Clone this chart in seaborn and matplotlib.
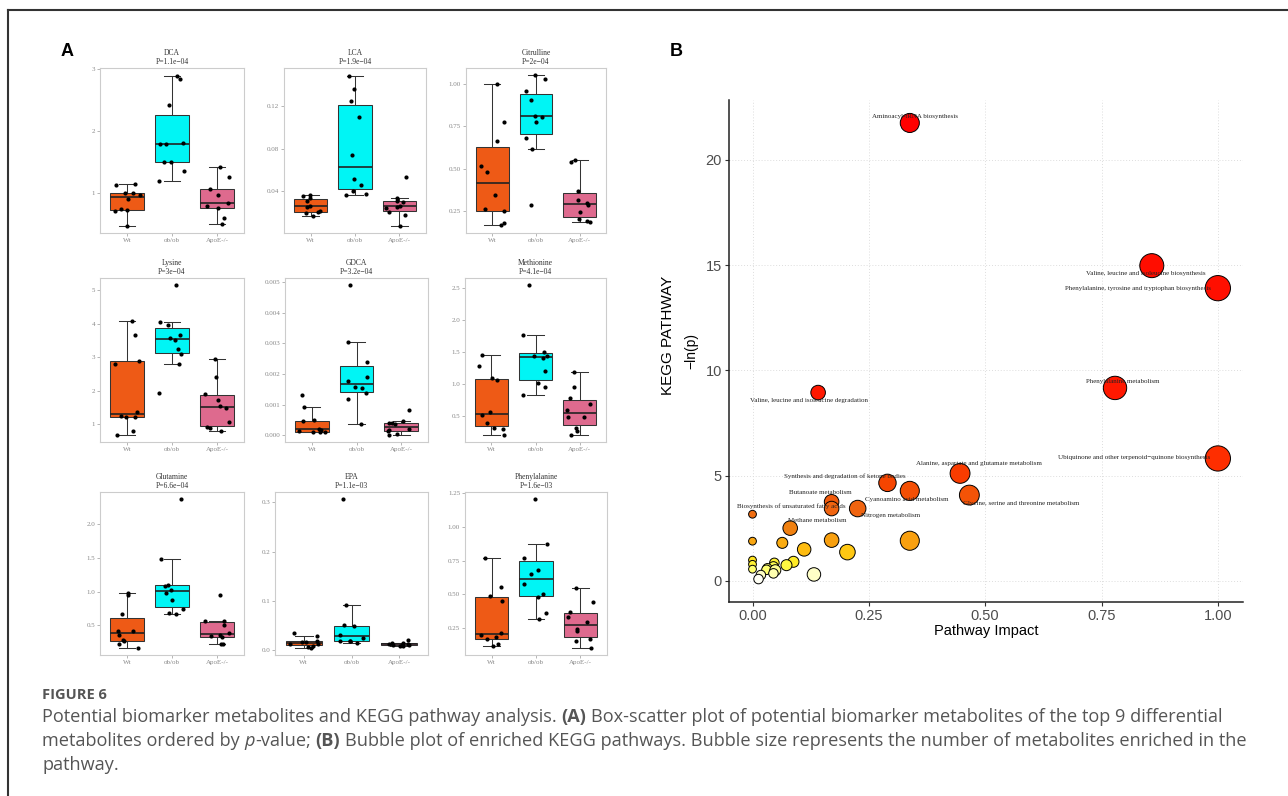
import numpy as np
import pandas as pd
import seaborn as sns
import matplotlib.pyplot as plt
from matplotlib.colors import LinearSegmentedColormap
from matplotlib.lines import Line2D
from matplotlib.transforms import IdentityTransform

# ---- panel A data ----
groups = ["Wt", "ob/ob", "ApoE-/-"]
group_colors = ["#EE5A16", "#00F5F5", "#DE6A8E"]

titles = ["DCA", "LCA", "Citrulline", "Lysine", "GDCA", "Methionine",
          "Glutamine", "EPA", "Phenylalanine"]
pvals = ["1.1e\u221204", "1.9e\u221204", "2e\u221204", "3e\u221204", "3.2e\u221204",
         "4.1e\u221204", "6.6e\u221204", "1.1e\u221203", "1.6e\u221203"]

dca = [[1.12, 1.14, 1.00, 0.99, 0.96, 0.90, 0.72, 0.71, 0.73, 0.47],
       [2.89, 2.84, 2.41, 1.78, 1.78, 1.80, 1.49, 1.50, 1.35, 1.18],
       [1.42, 1.25, 1.06, 0.97, 0.84, 0.79, 0.76, 0.59, 0.50]]
lca = [[0.036, 0.035, 0.033, 0.031, 0.026, 0.025, 0.021, 0.020, 0.019, 0.016],
       [0.149, 0.136, 0.125, 0.110, 0.074, 0.051, 0.046, 0.040, 0.0375, 0.036],
       [0.053, 0.033, 0.031, 0.030, 0.026, 0.025, 0.024, 0.020, 0.0175, 0.0074]]
citrulline = [[1.00, 0.776, 0.667, 0.52, 0.484, 0.346, 0.262, 0.25, 0.179, 0.167],
              [1.05, 1.03, 0.957, 0.904, 0.813, 0.805, 0.776, 0.68, 0.616, 0.29],
              [0.553, 0.543, 0.37, 0.32, 0.30, 0.29, 0.246, 0.205, 0.193, 0.187]]
lysine = [[4.08, 3.67, 2.90, 2.81, 1.35, 1.23, 1.21, 1.20, 0.80, 0.68],
          [5.15, 4.05, 3.95, 3.65, 3.58, 3.51, 3.23, 3.08, 2.81, 1.93],
          [2.93, 2.40, 1.90, 1.73, 1.55, 1.48, 1.05, 0.90, 0.89, 0.80]]
gdca = [[0.00132, 0.00091, 0.00048, 0.00045, 0.0002, 0.00017, 0.00013, 0.00011, 0.0001, 0.0001],
        [0.00489, 0.00304, 0.00239, 0.0019, 0.00177, 0.00156, 0.00153, 0.00137, 0.00118, 0.00035],
        [0.00081, 0.00045, 0.0004, 0.0004, 0.00035, 0.0002, 0.00018, 0.00014, 0.00005, 0.00002]]
methionine = [[1.45, 1.28, 1.09, 1.06, 0.56, 0.51, 0.39, 0.32, 0.29, 0.21],
              [2.54, 1.76, 1.50, 1.43, 1.43, 1.40, 1.20, 1.01, 0.95, 0.83],
              [1.18, 0.95, 0.78, 0.69, 0.59, 0.49, 0.48, 0.32, 0.27, 0.21]]
glutamine = [[0.98, 0.95, 0.675, 0.42, 0.41, 0.355, 0.28, 0.27, 0.22, 0.17],
             [2.37, 1.49, 1.10, 1.09, 1.03, 0.98, 0.87, 0.75, 0.68, 0.665],
             [0.945, 0.57, 0.56, 0.51, 0.39, 0.36, 0.34, 0.33, 0.23, 0.23]]
epa = [[0.034, 0.028, 0.018, 0.017, 0.016, 0.013, 0.012, 0.009, 0.006, 0.005],
       [0.306, 0.091, 0.050, 0.048, 0.031, 0.025, 0.019, 0.0175, 0.0175, 0.015],
       [0.021, 0.015, 0.014, 0.013, 0.012, 0.011, 0.010, 0.010, 0.009, 0.008]]
phenylalanine = [[0.77, 0.555, 0.49, 0.45, 0.215, 0.20, 0.18, 0.167, 0.13, 0.117],
                 [1.205, 0.876, 0.77, 0.68, 0.65, 0.58, 0.505, 0.48, 0.364, 0.32],
                 [0.55, 0.445, 0.365, 0.335, 0.297, 0.24, 0.225, 0.17, 0.153, 0.104]]
metabolites = [dca, lca, citrulline, lysine, gdca, methionine, glutamine, epa, phenylalanine]

yticks = [["1", "2", "3"],
          ["0.04", "0.08", "0.12"],
          ["0.25", "0.50", "0.75", "1.00"],
          ["1", "2", "3", "4", "5"],
          ["0.000", "0.001", "0.002", "0.003", "0.004", "0.005"],
          ["0.5", "1.0", "1.5", "2.0", "2.5"],
          ["0.5", "1.0", "1.5", "2.0"],
          ["0.0", "0.1", "0.2", "0.3"],
          ["0.25", "0.50", "0.75", "1.00", "1.25"]]

# ---- panel B data ----
impact = [0.338, 0.858, 1.0, 0.141, 0.779, 1.0, 0.446, 0.29, 0.338, 0.466, 0.17, 0.226,
          0.17, 0.081, 0.0, 0.0, 0.064, 0.17, 0.338, 0.111, 0.204, 0.0, 0.0, 0.0,
          0.088, 0.073, 0.047, 0.045, 0.032, 0.03, 0.049, 0.045, 0.018, 0.013, 0.132]
neglogp = [21.75, 14.97, 13.9, 8.94, 9.16, 5.81, 5.1, 4.65, 4.27, 4.07, 3.75, 3.43,
           3.43, 2.5, 3.16, 1.88, 1.8, 1.93, 1.9, 1.49, 1.36, 0.98, 0.78, 0.55,
           0.9, 0.74, 0.85, 0.68, 0.59, 0.52, 0.5, 0.35, 0.27, 0.08, 0.3]
hits = [12, 19, 21, 7, 18, 21, 13, 10, 12, 13, 7, 9,
        7, 7, 2, 2, 4, 7, 12, 6, 8, 2, 2, 2,
        4, 4, 3, 3, 3, 3, 4, 3, 3, 3, 6]
pathway_names = ["Aminoacyl-tRNA biosynthesis",
                 "Valine, leucine and isoleucine biosynthesis",
                 "Phenylalanine, tyrosine and tryptophan biosynthesis",
                 "Valine, leucine and isoleucine degradation",
                 "Phenylalanine metabolism",
                 "Ubiquinone and other terpenoid\u2212quinone biosynthesis",
                 "Alanine, aspartate and glutamate metabolism",
                 "Synthesis and degradation of ketone bodies",
                 "Cyanoamino acid metabolism",
                 "Glycine, serine and threonine metabolism",
                 "Butanoate metabolism",
                 "Nitrogen metabolism",
                 "Biosynthesis of unsaturated fatty acids",
                 "Methane metabolism"]
# label offsets from their bubble (x, y)
label_offsets = [(0.012, 0.32), (-0.012, -0.37), (-0.171, -0.02), (-0.019, -0.4),
                 (0.017, 0.32), (-0.18, 0.03), (0.04, 0.47), (-0.092, 0.3),
                 (-0.006, -0.41), (0.112, -0.4), (-0.024, 0.43), (0.07, -0.33),
                 (-0.087, 0.11), (0.059, 0.38)]

W, H = 1288, 796
fig = plt.figure(figsize=(W / 100, H / 100), dpi=100)


def rect(l, t, r, b):
    return [l / W, 1 - b / H, (r - l) / W, (b - t) / H]


# ---- panel A ----
panel_boxes = [(100, 68, 244, 233), (284, 68, 426, 233), (466, 68, 606, 233),
               (100, 278, 244, 442), (285, 278, 428, 442), (465, 278, 606, 442),
               (100, 492, 244, 655), (275, 492, 428, 655), (465, 492, 607, 655)]
serif = "Liberation Serif"
np.random.seed(7)
for i, vals in enumerate(metabolites):
    ax = fig.add_axes(rect(*panel_boxes[i]))
    df = pd.DataFrame({"group": np.repeat(groups, [len(v) for v in vals]),
                       "value": np.concatenate(vals)})
    sns.boxplot(data=df, x="group", y="value", hue="group", palette=group_colors,
                order=groups, hue_order=groups, width=0.75, saturation=1,
                showfliers=False, linecolor="#333333", linewidth=0.75,
                medianprops={"linewidth": 1.2, "color": "#222222"},
                legend=False, ax=ax)
    sns.stripplot(data=df, x="group", y="value", order=groups, color="black",
                  size=3, jitter=0.3, ax=ax)
    ax.set_xlim(-0.6, 2.6)
    ticks = [float(t) for t in yticks[i]]
    ax.set_yticks(ticks)
    ax.set_yticklabels(yticks[i])
    ax.set_xlabel("")
    ax.set_ylabel("")
    ax.set_title(f"{titles[i]}\nP={pvals[i]}", fontsize=5.5, family=serif,
                 color="#333333", pad=3, linespacing=1.2)
    ax.tick_params(labelsize=5, length=2, width=0.5, color="#999999",
                   labelcolor="#888888", pad=1.5)
    for lab in ax.get_xticklabels() + ax.get_yticklabels():
        lab.set_family(serif)
    for sp in ax.spines.values():
        sp.set_color("#CCCCCC")
        sp.set_linewidth(0.8)

fig.text(67 / W, 1 - 52 / H, "A", fontsize=13, fontweight="bold",
         family="Liberation Sans", ha="center", va="center")

# ---- panel B ----
heat = LinearSegmentedColormap.from_list("heat", [
    (0.0, "#FFFFF5"), (0.3 / 22, "#FFFFC0"), (0.6 / 22, "#FFFF50"),
    (0.9 / 22, "#FFE820"), (1.4 / 22, "#FFC010"), (1.9 / 22, "#F8A010"),
    (2.5 / 22, "#F08010"), (3.5 / 22, "#F06010"), (4.5 / 22, "#F54800"),
    (6 / 22, "#FF2A00"), (9 / 22, "#FF1800"), (1.0, "#FF0000")])

axb = fig.add_axes(rect(729, 100, 1243, 602))
bdf = pd.DataFrame({"impact": impact, "neglogp": neglogp, "hits": hits})
sns.scatterplot(data=bdf, x="impact", y="neglogp", hue="neglogp", size="hits",
                palette=heat, hue_norm=(0, 22), sizes=(0, 330), size_norm=(0, 21),
                edgecolor="black", linewidth=0.7, legend=False, ax=axb, zorder=3)
for k, name in enumerate(pathway_names):
    dx, dy = label_offsets[k]
    axb.text(impact[k] + dx, neglogp[k] + dy, name, fontsize=5, family=serif,
             ha="center", va="center", color="#222222", zorder=4)

axb.set_xlim(-0.0505, 1.054)
axb.set_ylim(-1.01, 22.84)
axb.set_xticks([0, 0.25, 0.5, 0.75, 1.0])
axb.set_xticklabels(["0.00", "0.25", "0.50", "0.75", "1.00"])
axb.set_yticks([0, 5, 10, 15, 20])
axb.grid(True, linestyle=(0, (1, 2)), color="#DDDDDD", linewidth=0.7, zorder=0)
axb.set_axisbelow(True)
for side in ["top", "right"]:
    axb.spines[side].set_visible(False)
for side in ["left", "bottom"]:
    axb.spines[side].set_color("#222222")
    axb.spines[side].set_linewidth(1.1)
axb.tick_params(labelsize=10.5, length=3, width=0.8, color="#333333",
                labelcolor="#4D4D4D", pad=2)
for lab in axb.get_xticklabels() + axb.get_yticklabels():
    lab.set_family("Liberation Sans")
axb.set_xlabel("Pathway Impact", fontsize=10.5, family="Liberation Sans", labelpad=1)
axb.set_ylabel("\u2212ln(p)", fontsize=10, family="Liberation Sans", labelpad=5)
fig.text(668 / W, 1 - 335 / H, "KEGG PATHWAY", rotation=90, fontsize=11,
         family="Liberation Sans", ha="center", va="center")
fig.text(676 / W, 1 - 52 / H, "B", fontsize=13, fontweight="bold",
         family="Liberation Sans", ha="center", va="center")

# ---- border and caption ----
fig.add_artist(Line2D([8 / W, 1], [1 - 10 / H, 1 - 10 / H], transform=fig.transFigure,
                      color="#333333", linewidth=1.5))
fig.add_artist(Line2D([8 / W, 8 / W], [0, 1 - 10 / H], transform=fig.transFigure,
                      color="#333333", linewidth=1.5))

cap_font = "Open Sans"
cap_color = "#555555"
renderer = fig.canvas.get_renderer()


def text_width(s, **kw):
    t = fig.text(0, 0, s, transform=IdentityTransform(), **kw)
    w = t.get_window_extent(renderer).width
    t.remove()
    return w


def rich_line(x, y, parts, size):
    base = dict(fontsize=size, family=cap_font)
    space = text_width("a a", **base) - text_width("aa", **base)
    for s, weight, style in parts:
        x += (len(s) - len(s.lstrip(" "))) * space
        core = s.strip(" ")
        if core:
            t = fig.text(x, y, core, transform=IdentityTransform(), fontsize=size,
                         family=cap_font, fontweight=weight, fontstyle=style,
                         color=cap_color, va="baseline")
            x += t.get_window_extent(renderer).width
        x += (len(s) - len(s.rstrip(" "))) * space


fig.text(42, H - 699, "FIGURE 6", transform=IdentityTransform(), fontsize=10.5,
         family=cap_font, fontweight="bold", color=cap_color, va="baseline")
cap_size = 13.1
rich_line(42, H - 722, [
    ("Potential biomarker metabolites and KEGG pathway analysis. ", "normal", "normal"),
    ("(A)", "bold", "normal"),
    (" Box-scatter plot of potential biomarker metabolites of the top 9 differential",
     "normal", "normal")], cap_size)
rich_line(42, H - 746, [
    ("metabolites ordered by ", "normal", "normal"),
    ("p", "normal", "italic"),
    ("-value; ", "normal", "normal"),
    ("(B)", "bold", "normal"),
    (" Bubble plot of enriched KEGG pathways. Bubble size represents the number of "
     "metabolites enriched in the", "normal", "normal")], cap_size)
rich_line(42, H - 770, [("pathway.", "normal", "normal")], cap_size)

fig.savefig("out.png", dpi=100)
